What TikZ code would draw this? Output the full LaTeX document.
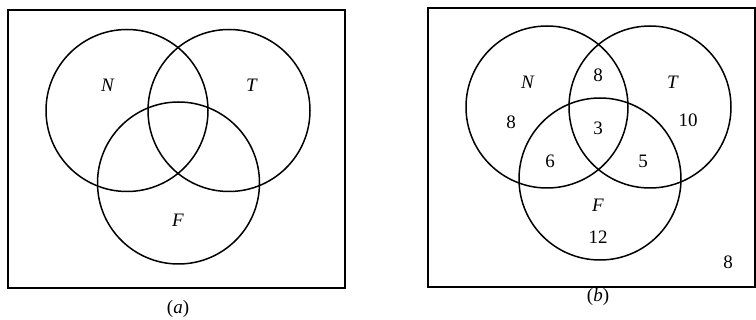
\documentclass[tikz,border=0pt]{standalone}
\usepackage{fontspec}
\setmainfont{Liberation Serif}
\usepackage{tikz}

\begin{document}
\begin{tikzpicture}[x=1pt, y=-1pt, line width=1.5pt,
    venn/.style={circle, draw, minimum size=162pt, inner sep=0pt},
    lbl/.style={font=\fontsize{19}{19}\selectfont}]
    \useasboundingbox (0,0) rectangle (756,320);
    % panel (a)
    \draw (8,10) rectangle (345,288);
    \node[venn] (Na) at (127,110.5) {};
    \node[venn] (Ta) at (229,110.5) {};
    \node[venn] (Fa) at (178.5,183) {};
    \node[lbl] (nNa) at (108,85) {\textit{N}};
    \node[lbl] (nTa) at (252,85) {\textit{T}};
    \node[lbl] (nFa) at (178,220) {\textit{F}};
    \node[lbl] (capa) at (178,309) {(\textit{a})};
    % panel (b)
    \draw (428,8) rectangle (755,287);
    \node[venn] (Nb) at (547,107) {};
    \node[venn] (Tb) at (650,107) {};
    \node[venn] (Fb) at (600,179) {};
    \node[lbl] (nNb) at (528,82) {\textit{N}};
    \node[lbl] (nTb) at (673,82) {\textit{T}};
    \node[lbl] (nFb) at (598,205) {\textit{F}};
    \node[lbl] (vN) at (511,122) {8};
    \node[lbl] (vNT) at (598,75) {8};
    \node[lbl] (vT) at (688,120) {10};
    \node[lbl] (vNTF) at (598,128) {3};
    \node[lbl] (vNF) at (550,161) {6};
    \node[lbl] (vTF) at (643,161) {5};
    \node[lbl] (vF) at (598,237) {12};
    \node[lbl] (vU) at (728,262) {8};
    \node[lbl] (capb) at (598,297) {(\textit{b})};
\end{tikzpicture}
\end{document}
